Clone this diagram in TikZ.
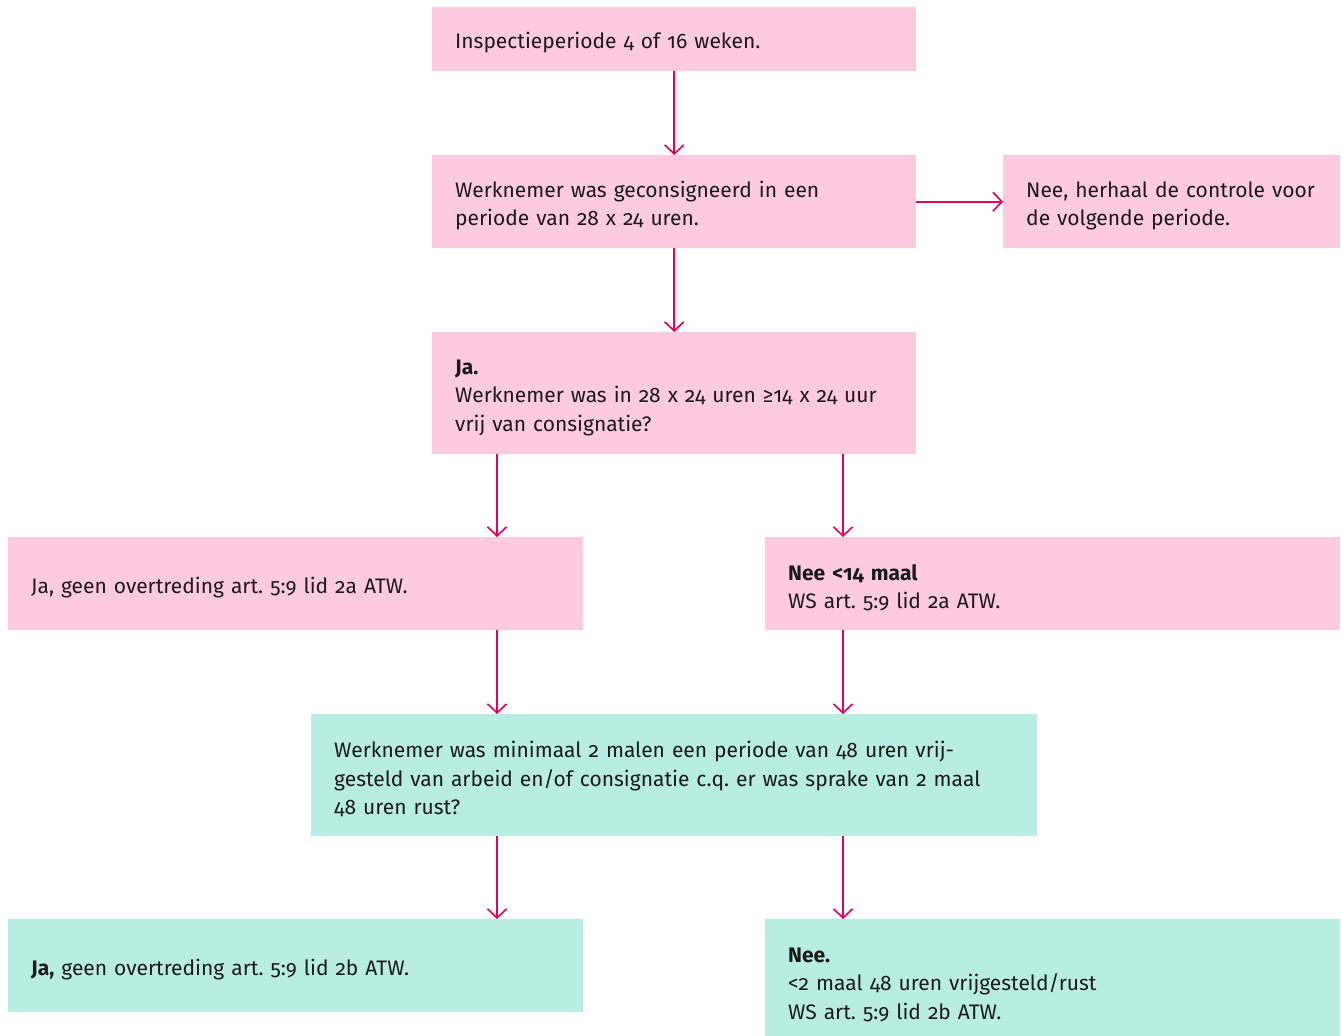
\documentclass[tikz,border=0pt]{standalone}
\usepackage{fontspec}
\setmainfont{Fira Sans}[Numbers=OldStyle]
\usepackage{xcolor}
\usepackage{tikz}
\usetikzlibrary{arrows.meta}
\definecolor{roze}{HTML}{FDCADE}
\definecolor{mint}{HTML}{B8EEE2}
\definecolor{pijl}{HTML}{E4005B}
\definecolor{tekst}{HTML}{1A1A1A}
\frenchspacing
\tikzset{
  box/.style={rectangle, anchor=north west, inner xsep=23pt, inner ysep=0pt,
    align=left, text=tekst, font=\fontsize{21}{28.8}\selectfont,
    execute at begin node={\rule{0pt}{24pt}}},
  boxR/.style={box, fill=roze},
  boxG/.style={box, fill=mint},
  arr/.style={-{Straight Barb[length=9pt,width=19pt,line width=1.6pt]}, line width=1.6pt, draw=pijl}
}
\begin{document}
\begin{tikzpicture}[x=1pt,y=1pt]
  \useasboundingbox (0,0) rectangle (1342,-1036);
  \fill[white] (0,0) rectangle (1342,-1036);
  \clip (0,0) rectangle (1342,-1036);

  \node[boxR, text width=438pt, minimum height=64pt] (periode) at (432,-7)
    {Inspectieperiode 4 of 16 weken.};
  \node[boxR, text width=438pt, minimum height=93pt] (consign) at (432,-155)
    {Werknemer was geconsigneerd in een\\periode van 28 x 24 uren.};
  \node[boxR, text width=291pt, minimum height=93pt] (herhaal) at (1003,-155)
    {Nee, herhaal de controle voor\\de volgende periode.};
  \node[boxR, text width=438pt, minimum height=122pt] (vrij) at (432,-332)
    {\textbf{Ja.}\\Werknemer was in 28 x 24 uren ≥14 x 24 uur\\vrij van consignatie?};
  \node[boxR, text width=529pt, minimum height=93pt] (jaA) at (8,-537)
    {Ja, geen overtreding art. 5:9 lid 2a ATW.};
  \node[boxR, text width=529pt, minimum height=93pt] (neeA) at (765,-537)
    {\textbf{Nee <14 maal}\\WS art. 5:9 lid 2a ATW.};
  \node[boxG, text width=680pt, minimum height=122pt] (rust) at (311,-714)
    {Werknemer was minimaal 2 malen een periode van 48 uren vrij-\\gesteld van arbeid en/of consignatie c.q. er was sprake van 2 maal\\48 uren rust?};
  \node[boxG, text width=529pt, minimum height=93pt] (jaB) at (8,-919)
    {\textbf{Ja,} geen overtreding art. 5:9 lid 2b ATW.};
  \node[boxG, text width=529pt, minimum height=122pt] (neeB) at (765,-919)
    {\textbf{Nee.}\\<2 maal 48 uren vrijgesteld/rust\\WS art. 5:9 lid 2b ATW.};

  % vertical lanes for the split arrows
  \coordinate (links) at (497,0);
  \coordinate (rechts) at (843,0);

  \draw[arr] (periode) -- (consign);
  \draw[arr] (consign.east) -- (herhaal.west |- consign.east);
  \draw[arr] (consign) -- (vrij);
  \draw[arr] (vrij.south -| links) -- (jaA.north -| links);
  \draw[arr] (vrij.south -| rechts) -- (neeA.north -| rechts);
  \draw[arr] (jaA.south -| links) -- (rust.north -| links);
  \draw[arr] (neeA.south -| rechts) -- (rust.north -| rechts);
  \draw[arr] (rust.south -| links) -- (jaB.north -| links);
  \draw[arr] (rust.south -| rechts) -- (neeB.north -| rechts);
\end{tikzpicture}
\end{document}
